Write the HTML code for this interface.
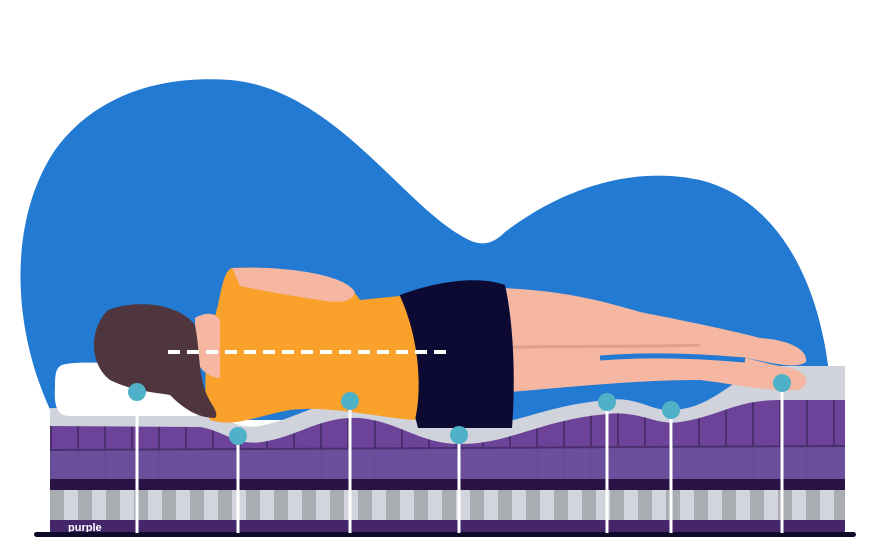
<!DOCTYPE html>
<html><head><meta charset="utf-8"><style>html,body{margin:0;padding:0;background:#fff;}svg{display:block}</style></head>
<body>
<svg width="872" height="549" viewBox="0 0 872 549" xmlns="http://www.w3.org/2000/svg">
<defs>
<clipPath id="mat"><rect x="50" y="300" width="795" height="240" rx="10"/></clipPath>
<pattern id="spr" x="50" y="0" width="28" height="40" patternUnits="userSpaceOnUse"><rect width="14" height="40" fill="#a9adb2"/><rect x="14" width="14" height="40" fill="#d3d5de"/></pattern>
<pattern id="cells" x="50" y="0" width="27" height="100" patternUnits="userSpaceOnUse"><rect width="27" height="100" fill="#6d4399"/><rect x="0" width="2" height="100" fill="#4b2f70"/></pattern>
</defs>
<!-- blue blob -->
<path d="M55 420 C10 330 8 220 55 150 C95 95 160 75 230 80 C330 88 400 200 460 235 C480 248 492 245 505 232 C560 190 630 165 700 180 C780 200 830 290 832 420 Z" fill="#237ad3"/>
<!-- mattress -->
<g clip-path="url(#mat)">
<path d="M50 408 L200 410 C225 416 235 430 260 426 C300 418 320 398 360 402 C400 406 420 428 460 428 C510 428 540 406 607 400 C640 396 650 412 675 410 C720 406 735 370 780 366 L845 366 L845 482 L50 482 Z" fill="#d1d3dc"/>
<path d="M50 426 L200 427 C225 431 235 446 262 442 C300 436 320 416 360 418 C400 422 420 444 460 444 C510 444 540 420 607 414 C640 410 655 426 680 422 C720 416 735 400 780 400 L845 400 L845 482 L50 482 Z" fill="url(#cells)"/>
<path d="M50 450 L845 446 L845 482 L50 482 Z" fill="#6c519c" opacity="0.85"/>
<path d="M50 450 L845 446" stroke="#4b2f70" stroke-width="2"/>
<rect x="50" y="479" width="795" height="11" fill="#2b1244"/>
<rect x="50" y="490" width="795" height="31" fill="url(#spr)"/>
<rect x="50" y="520" width="795" height="14" fill="#45266a"/>
</g>
<text x="68" y="531" font-family="Liberation Sans, sans-serif" font-size="11" font-weight="bold" fill="#fff">purple</text>
<rect x="34" y="532" width="822" height="5" rx="2.5" fill="#0f0a2a"/>
<!-- pillow -->
<path d="M62 365 C75 360 150 362 190 380 C210 392 212 412 195 416 L70 416 C56 416 54 405 55 385 C55 372 57 367 62 365 Z" fill="#fff"/>
<!-- lower leg -->
<path d="M505 335 C570 340 640 345 700 350 C740 355 770 365 790 368 C808 372 812 385 798 390 C770 392 740 385 700 380 C640 380 580 386 510 392 Z" fill="#f5b7a2"/>
<!-- upper leg -->
<path d="M500 288 C560 290 600 300 640 312 C690 322 730 330 760 338 C790 340 808 350 806 362 C795 370 770 362 745 358 C690 355 620 356 560 356 L505 352 Z" fill="#f5b7a2"/>
<path d="M600 358 C650 354 700 356 745 360" stroke="#237ad3" stroke-width="5" fill="none"/>
<path d="M455 350 C540 344 620 348 700 345" stroke="#e29f8c" stroke-width="3" fill="none"/>
<!-- shorts -->
<path d="M400 295 C440 280 480 276 505 285 C515 330 515 390 512 428 L418 428 C405 380 400 330 400 295 Z" fill="#0c0a33"/>
<!-- shirt -->
<path d="M232 268 C300 265 350 280 360 300 L400 296 C420 340 422 390 415 420 C380 418 330 405 290 410 C260 415 235 428 210 420 C200 390 208 340 218 305 C222 285 225 270 232 268 Z" fill="#f9a12a"/>
<path d="M232 268 C290 266 345 275 355 292 C352 302 340 304 320 300 C290 296 260 290 240 286 Z" fill="#f5b7a2"/>
<!-- neck -->
<path d="M195 318 C205 312 215 312 220 320 L220 378 C210 378 198 370 195 355 Z" fill="#f5b7a2"/>
<!-- hair -->
<path d="M108 310 C140 298 180 305 195 325 C200 350 198 370 205 390 C210 405 220 412 215 418 C195 418 180 405 170 395 C150 392 130 390 110 380 C90 365 88 330 108 310 Z" fill="#4f363e"/>
<!-- dashed line -->
<line x1="168" y1="352" x2="446" y2="352" stroke="#fff" stroke-width="4" stroke-dasharray="12,7"/>
<!-- markers -->
<g stroke="#fff" stroke-width="3">
<line x1="137" y1="392" x2="137" y2="533"/><line x1="238" y1="436" x2="238" y2="533"/>
<line x1="350" y1="401" x2="350" y2="533"/><line x1="459" y1="435" x2="459" y2="533"/>
<line x1="607" y1="402" x2="607" y2="533"/><line x1="671" y1="410" x2="671" y2="533"/>
<line x1="782" y1="383" x2="782" y2="533"/>
</g>
<g fill="#4fb1c8">
<circle cx="137" cy="392" r="9"/><circle cx="238" cy="436" r="9"/><circle cx="350" cy="401" r="9"/>
<circle cx="459" cy="435" r="9"/><circle cx="607" cy="402" r="9"/><circle cx="671" cy="410" r="9"/>
<circle cx="782" cy="383" r="9"/>
</g>
</svg>
</body></html>
